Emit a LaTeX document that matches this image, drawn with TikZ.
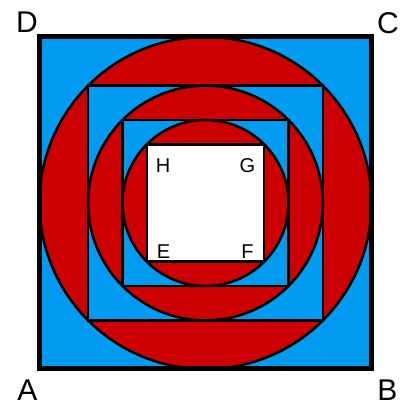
\documentclass[tikz,border=0pt]{standalone}
\usepackage{fontspec}
\setmainfont{Liberation Sans}
\usetikzlibrary{calc}
\definecolor{skyb}{RGB}{0,155,240}
\definecolor{redc}{RGB}{204,0,0}
\begin{document}
\begin{tikzpicture}[x=1pt,y=1pt,
  corner/.style={inner sep=0pt,font=\fontsize{30}{30}\selectfont},
  inlab/.style={inner sep=0pt,font=\fontsize{20}{20}\selectfont},
  thin line/.style={line width=2.5pt,draw=black}]
\useasboundingbox (0,0) rectangle (401,408);
\coordinate (O) at (205.5,205);
\def\Ra{166}
\pgfmathsetmacro{\Rb}{\Ra/sqrt(2)}
\pgfmathsetmacro{\Rc}{\Rb/sqrt(2)}
\pgfmathsetmacro{\Rd}{\Rc/sqrt(2)}
% fills
\fill[skyb] ($(O)+(-\Ra,-\Ra)$) rectangle ($(O)+(\Ra,\Ra)$);
\fill[redc] (O) circle[radius=\Ra];
\fill[skyb] ($(O)+(-\Rb,-\Rb)$) rectangle ($(O)+(\Rb,\Rb)$);
\fill[redc] (O) circle[radius=\Rb];
\fill[skyb] ($(O)+(-\Rc,-\Rc)$) rectangle ($(O)+(\Rc,\Rc)$);
\fill[redc] (O) circle[radius=\Rc];
\fill[white] ($(O)+(-\Rd,-\Rd)$) rectangle ($(O)+(\Rd,\Rd)$);
% outlines
\draw[thin line] (O) circle[radius=\Ra];
\draw[thin line] ($(O)+(-\Rb,-\Rb)$) rectangle ($(O)+(\Rb,\Rb)$);
\draw[thin line] (O) circle[radius=\Rb];
\draw[thin line] ($(O)+(-\Rc,-\Rc)$) rectangle ($(O)+(\Rc,\Rc)$);
\draw[thin line] (O) circle[radius=\Rc];
\draw[thin line] ($(O)+(-\Rd,-\Rd)$) rectangle ($(O)+(\Rd,\Rd)$);
\draw[line width=5pt,line join=miter] ($(O)+(-\Ra,-\Ra)$) rectangle ($(O)+(\Ra,\Ra)$);
% labels
\node[corner] (D) at (27,385.5) {D};
\node[corner] (C) at (388,385) {C};
\node[corner] (A) at (27.5,18) {A};
\node[corner] (B) at (387.5,18) {B};
\node[inlab] (H) at (163,242.5) {H};
\node[inlab] (G) at (247.5,242.5) {G};
\node[inlab] (E) at (163.5,156.5) {E};
\node[inlab] (F) at (247.5,156.5) {F};
\end{tikzpicture}
\end{document}
